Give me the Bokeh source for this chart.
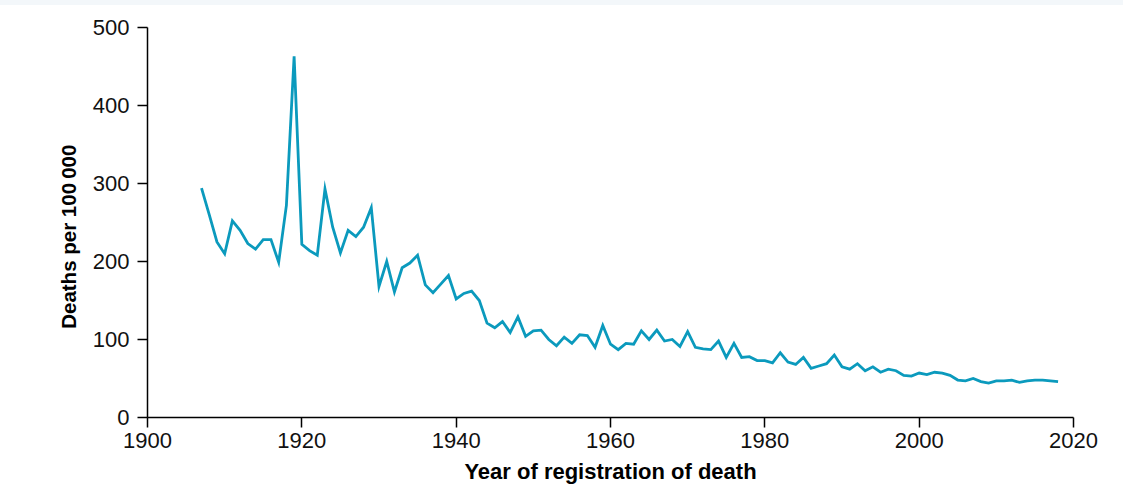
from bokeh.plotting import figure
from bokeh.layouts import column
from bokeh.models import Div, FixedTicker, Range1d, ColumnDataSource
from bokeh.embed import file_html
from bokeh.resources import INLINE

# Deaths per 100 000 by year of registration of death
years = list(range(1907, 2019))
deaths = [
    294, 260, 225, 210, 252, 240, 223, 216, 228, 228,   # 1907-1916
    199, 272, 463, 222, 214, 208, 293, 244, 211, 240,   # 1917-1926
    232, 244, 269, 168, 200, 161, 192, 198, 208, 170,   # 1927-1936
    160, 171, 182, 152, 159, 162, 150, 121, 115, 123,   # 1937-1946
    109, 129, 104, 111, 112, 100, 92, 103, 95, 106,     # 1947-1956
    105, 90, 118, 94, 87, 95, 94, 111, 100, 112,        # 1957-1966
    98, 100, 91, 110, 90, 88, 87, 98, 77, 95,           # 1967-1976
    77, 78, 73, 73, 70, 83, 71, 68, 77, 63,             # 1977-1986
    66, 69, 80, 65, 62, 69, 60, 65, 58, 62,             # 1987-1996
    60, 54, 53, 57, 55, 58, 57, 54, 48, 47,             # 1997-2006
    50, 46, 44, 47, 47, 48, 45, 47, 48, 48,             # 2007-2016
    47, 46,                                             # 2017-2018
]

x_ticks = [1900, 1920, 1940, 1960, 1980, 2000, 2020]
y_ticks = [0, 100, 200, 300, 400, 500]

source = ColumnDataSource(data=dict(year=years, deaths=deaths))

FONT = "Liberation Sans"

p = figure(
    width=1123, height=492,
    x_range=Range1d(1900, 2020), y_range=Range1d(0, 500),
    output_backend="svg", toolbar_location=None,
    min_border_left=147, min_border_right=50,
    min_border_top=22, min_border_bottom=80,
    background_fill_color="white", border_fill_color="white",
)
p.outline_line_color = None
p.grid.visible = False

p.line("year", "deaths", source=source, line_color="#0b9abd", line_width=2.8,
       line_join="miter")

for ax in (p.xaxis[0], p.yaxis[0]):
    ax.axis_line_color = "black"
    ax.axis_line_width = 1.5
    ax.major_tick_line_color = "black"
    ax.major_tick_line_width = 1.5
    ax.major_tick_out = 10
    ax.major_tick_in = 0
    ax.minor_tick_line_color = None
    ax.major_label_text_font = FONT
    ax.major_label_text_font_size = "22px"
    ax.major_label_text_color = "#111111"
    ax.axis_label_text_font = FONT
    ax.axis_label_text_font_style = "bold"
    ax.axis_label_text_color = "black"

p.xaxis[0].ticker = FixedTicker(ticks=x_ticks)
p.yaxis[0].ticker = FixedTicker(ticks=y_ticks)
p.xaxis[0].axis_label = "Year of registration of death"
p.xaxis[0].axis_label_text_font_size = "22px"
# trailing no-break spaces nudge the rotated title a little below the axis middle
p.yaxis[0].axis_label = "Deaths per 100\u2009000" + "\u00a0" * 5
p.yaxis[0].axis_label_text_font_size = "20.5px"
p.xaxis[0].major_label_standoff = 5
p.yaxis[0].major_label_standoff = 8
p.xaxis[0].axis_label_standoff = 8
p.yaxis[0].axis_label_standoff = 10

band = Div(text="", width=1123, height=5, margin=0,
           styles={"background-color": "#f3f7fa"})

layout = column(band, p, spacing=0, margin=0)

open("out.html", "w").write(file_html(layout, INLINE))
